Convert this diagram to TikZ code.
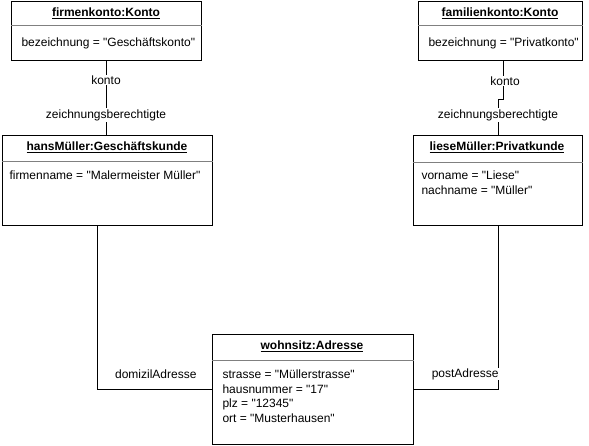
\documentclass[tikz,border=0pt]{standalone}
\usepackage{fontspec}
\setmainfont{Liberation Sans}[Ligatures=TeXOff]
\usetikzlibrary{positioning}

\begin{document}
\begin{tikzpicture}[x=1pt,y=-1pt,line width=1pt,
	font=\fontsize{12}{14.5}\selectfont,
	obj box/.style={rectangle,draw,inner sep=0pt,anchor=north west},
	obj title/.style={inner sep=0pt,font=\fontsize{12}{14.5}\selectfont\bfseries},
	attr list/.style={inner sep=0pt,anchor=north west,align=left},
	role/.style={fill=white,inner sep=1pt}]
	
	\definecolor{sepgray}{RGB}{128,128,128}
	\useasboundingbox (0,0) rectangle (589,445);
	
	\node[obj box, minimum width=190, minimum height=59] (fk) at (11,1) {};
	\node[obj box, minimum width=164, minimum height=59] (pk) at (418,1) {};
	\node[obj box, minimum width=210, minimum height=90] (hm) at (2,135) {};
	\node[obj box, minimum width=169, minimum height=90] (lm) at (413,135) {};
	\node[obj box, minimum width=201, minimum height=110] (ws) at (212,334) {};
	
	\node[obj title] (fkt) at (106,13) {\underline{firmenkonto:Konto}};
	\node[obj title] (pkt) at (500,13) {\underline{familienkonto:Konto}};
	\node[obj title] (hmt) at (107,147) {\underline{hansMüller:Geschäftskunde}};
	\node[obj title] (lmt) at (497,147) {\underline{lieseMüller:Privatkunde}};
	\node[obj title] (wst) at (312,346) {\underline{wohnsitz:Adresse}};
	
	\draw[sepgray] (fk.west |- 0,25) -- (fk.east |- 0,25);
	\draw[sepgray] (pk.west |- 0,25) -- (pk.east |- 0,25);
	\draw[sepgray] (hm.west |- 0,161) -- (hm.east |- 0,161);
	\draw[sepgray] (lm.west |- 0,162) -- (lm.east |- 0,162);
	\draw[sepgray] (ws.west |- 0,360) -- (ws.east |- 0,360);
	
	\node[attr list] (fka) at (21,37.5) {bezeichnung = "Geschäftskonto"};
	\node[attr list] (pka) at (428,37.5) {bezeichnung = "Privatkonto"};
	\node[attr list] (hma) at (9,170.5) {firmenname = "Malermeister Müller"};
	\node[attr list] (lma) at (421,170.5) {vorname = "Liese"\\nachname = "Müller"};
	\node[attr list] (wsa) at (222,369.5) {strasse = "Müllerstrasse"\\hausnummer = "17"\\plz = "12345"\\ort = "Musterhausen"};
	
	% links
	\draw (fk.south) -- (fk.south |- hm.north);
	\draw ([xshift=3pt]pk.south) -- ++(0,38) -| (lm.north);
	\draw ([xshift=-10pt]hm.south) |- (ws.west);
	\draw (lm.south) |- (ws.east);
	
	\node[role] (r1) at (106,80) {konto};
	\node[role] (r2) at (106,115) {zeichnungsberechtigte};
	\node[role] (r3) at (505,81) {konto};
	\node[role] (r4) at (498,115) {zeichnungsberechtigte};
	\node[role, anchor=east] (r5) at (198,374) {domizilAdresse};
	\node[role, anchor=east, inner sep=0.5pt] (r6) at (499.5,374) {postAdresse};
\end{tikzpicture}
\end{document}
